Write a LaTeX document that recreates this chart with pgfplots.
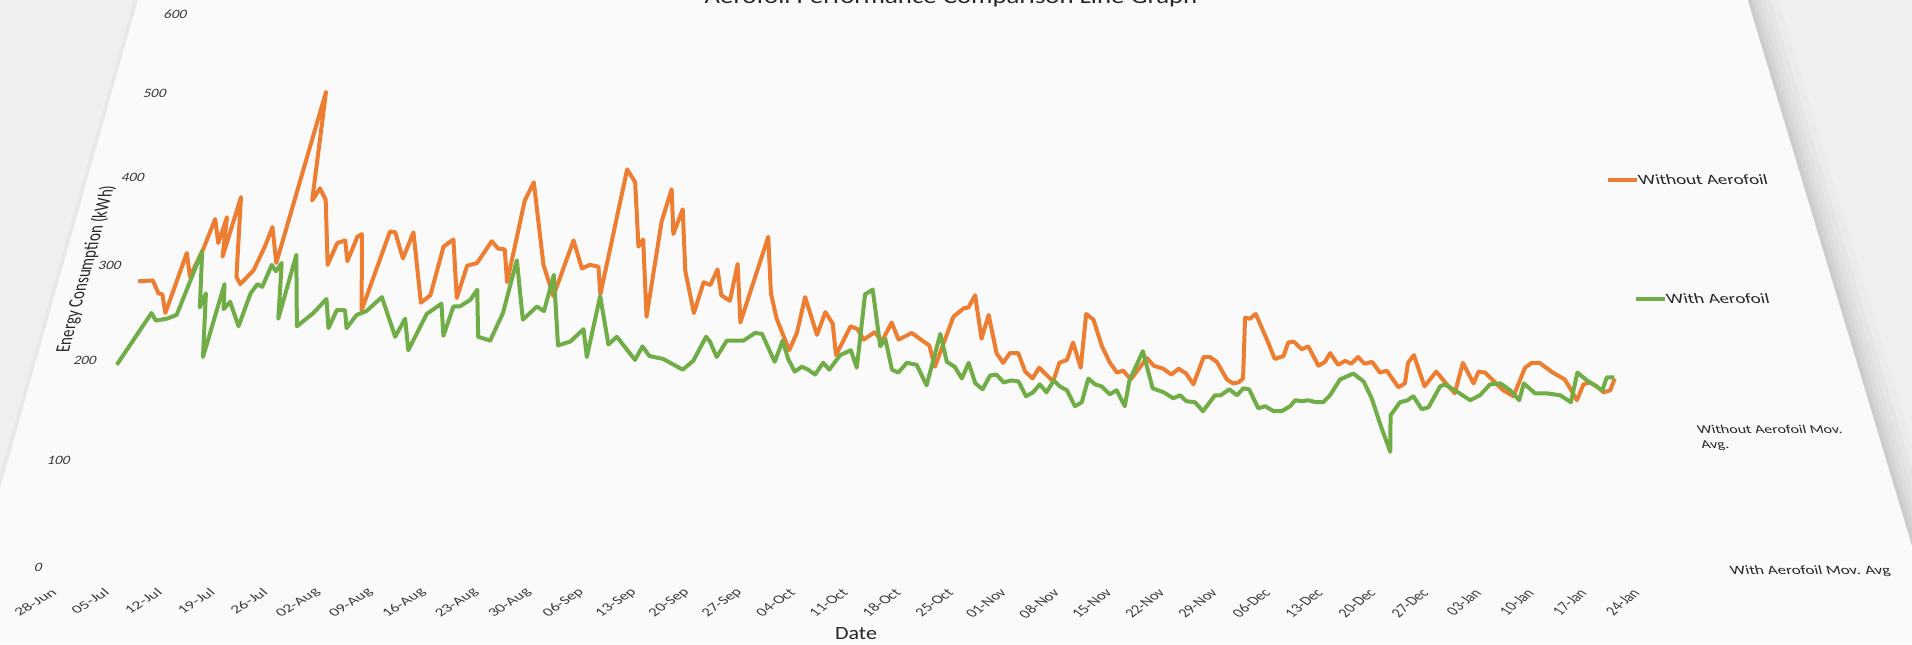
\documentclass[border=0pt]{standalone}
\usepackage{fontspec}
\setmainfont{Carlito}
\usepackage{pgfplots}
\pgfplotsset{compat=1.18}
\usepackage{pgfplotstable}

\definecolor{withoutcol}{RGB}{237,125,49}
\definecolor{withcol}{RGB}{112,173,71}
\definecolor{pagebg}{RGB}{239,239,239}
\definecolor{panelcol}{RGB}{250,250,250}
\definecolor{tickcol}{RGB}{60,60,60}
\definecolor{textcol}{RGB}{38,38,38}

% day index (0 = 28-Jun) and daily energy use in kWh
\pgfplotstableread{
d v
0.0 283
2.1 284
3.4 270
4.0 269
5.1 249
6.1 314
7.4 288
8.4 319
9.1 352
10.4 325
10.8 354
11.5 310
12.2 377
14.2 288
15.0 280
16.5 295
17.4 321
17.9 343
19.6 303
21.7 502
23.0 373
23.8 387
25.0 374
27.2 301
28.0 325
29.1 328
30.0 305
30.8 332
31.4 335
33.4 252
35.5 338
36.3 337
38.1 308
39.0 337
41.8 260
43.0 268
43.8 321
45.1 329
46.9 265
47.7 300
49.1 303
50.8 327
51.9 319
52.9 318
53.9 282
54.9 373
55.9 394
58.9 301
60.9 267
62.9 328
64.6 297
65.7 301
67.0 299
67.7 269
69.8 409
71.2 394
72.6 321
73.2 329
74.7 245
75.7 349
76.8 386
77.6 335
78.7 363
79.8 294
81.5 249
82.6 282
83.6 279
84.5 296
85.3 268
86.6 262
87.4 302
88.3 239
91.7 332
92.5 270
93.5 243
95.5 210
96.5 228
97.5 266
99.4 226
100.5 250
101.6 238
102.2 205
104.2 235
105.2 232
106.1 221
107.7 229
108.7 219
110.1 239
111.1 221
113.0 228
114.7 219
115.5 215
116.3 193
119.0 245
120.5 254
121.2 255
122.2 268
123.0 222
124.1 247
125.1 207
126.0 197
127.0 207
128.2 207
129.1 188
130.1 181
131.1 192
133.0 178
134.0 197
135.1 200
136.1 218
137.0 192
138.2 248
139.2 242
140.2 214
141.2 197
142.1 187
143.0 189
144.0 180
146.5 202
147.4 194
148.7 191
149.8 185
150.9 191
151.9 186
152.8 175
154.6 203
155.5 203
156.4 198
157.6 180
158.4 176
159.2 177
159.9 181
161.1 244
161.8 243
162.7 248
163.9 221
164.7 201
166.0 204
166.9 218
167.7 219
168.7 211
169.7 214
170.8 194
171.8 198
172.7 207
173.6 195
174.7 199
175.5 196
176.6 203
177.4 196
178.5 198
179.4 187
180.4 189
181.7 172
182.7 176
183.6 197
184.6 205
185.4 173
187.4 188
188.6 175
189.5 166
191.4 197
192.4 176
193.4 188
194.3 187
196.4 169
197.7 163
200.1 192
201.2 197
202.3 197
203.9 187
205.4 180
205.9 171
206.5 159
207.9 175
208.9 177
209.7 173
210.5 167
211.5 169
212.5 181
}\withoutdata

\pgfplotstableread{
d v
0.0 195
3.1 249
4.0 241
5.5 243
6.8 247
8.3 316
9.9 255
10.3 270
12.0 203
12.7 280
13.4 253
14.1 261
16.1 235
16.8 270
17.5 280
18.3 277
19.0 301
19.8 294
20.4 303
21.6 243
22.3 312
24.5 235
26.5 249
28.0 264
29.1 233
29.8 252
31.0 252
31.7 233
32.8 247
34.1 251
36.0 266
38.9 224
39.9 243
41.1 210
42.9 248
44.8 259
45.8 225
46.6 256
47.5 256
48.9 263
49.7 274
50.8 224
52.6 220
53.9 249
54.9 306
56.9 242
58.7 256
59.8 251
60.6 290
62.4 215
64.1 219
65.8 232
66.7 203
67.7 267
69.6 216
70.7 224
73.6 200
74.5 214
75.6 204
77.6 201
80.5 190
81.9 199
83.5 224
84.1 219
85.2 203
86.5 220
88.9 220
90.5 228
91.5 227
93.5 198
94.5 220
95.4 201
96.4 188
97.4 193
98.3 190
99.3 185
100.4 197
101.3 190
102.8 205
104.3 210
105.2 192
106.2 269
107.3 274
108.5 214
109.2 222
110.2 190
111.1 187
112.3 197
113.7 195
115.1 174
117.1 227
118.0 198
119.1 193
120.1 181
121.1 197
122.0 176
123.0 170
124.1 184
125.0 185
126.0 177
127.1 179
128.1 178
129.1 163
130.1 167
131.1 175
132.0 167
133.1 179
133.9 173
134.9 169
135.9 153
136.9 157
138.0 181
138.9 175
139.8 173
140.9 165
141.9 169
142.9 153
143.8 179
146.0 209
147.0 171
148.5 167
149.8 161
150.8 164
151.6 158
152.8 157
153.8 148
155.7 164
156.5 164
157.8 170
158.8 164
159.8 171
160.6 170
161.6 151
162.6 153
163.7 148
164.8 148
166.1 153
166.9 159
167.8 158
168.7 159
169.8 157
170.8 157
171.9 164
173.6 180
175.6 186
176.9 178
177.7 161
178.4 134
179.2 108
180.0 144
181.6 157
182.7 159
183.6 163
184.5 150
185.5 152
187.6 173
188.3 175
189.8 168
191.5 159
193.0 164
194.7 175
196.2 176
197.4 169
198.4 159
199.5 176
200.8 166
202.4 166
204.3 164
205.6 157
207.4 187
208.5 179
210.4 169
211.4 182
212.5 182
}\withdata

\tikzset{
  ytick lab/.style={font=\fontsize{7.5}{9}\selectfont, text=tickcol, anchor=east, inner sep=1pt},
  xtick lab/.style={font=\fontsize{8.5}{10}\selectfont, text=tickcol, anchor=east, inner sep=0.5pt},
  legend lab/.style={font=\fontsize{9.5}{11}\selectfont, text=textcol, anchor=west, inner sep=0pt},
  small legend lab/.style={font=\fontsize{8}{9.5}\selectfont, text=textcol, anchor=west, inner sep=0pt},
}

\begin{document}
\begin{tikzpicture}[
  % the chart sheet is seen tilted: days and kWh are projected onto the page
  declare function={
    wf(\VV)=1+0.000332*\VV;
    projx(\DD,\VV)=917+(65+7.49*\DD-917)/wf(\VV);
    projy(\VV)=(567-0.916*\VV)/wf(\VV);
  }]
\path[use as bounding box] (0pt,0pt) rectangle (956pt,322pt);
\clip (0pt,0pt) rectangle (956pt,322pt);
\begin{axis}[
  at={(0pt,0pt)}, anchor=south west,
  scale only axis, width=956pt, height=322pt,
  xmin=0, xmax=1912, ymin=0, ymax=644, y dir=reverse,
  hide axis, clip=false,
]
% page background, tilted sheet and the soft shadow along its right edge
\fill[pagebg] (axis cs:0,0) rectangle (axis cs:1912,644);
\fill[black!8]  (axis cs:1747.6,0) -- (axis cs:1778.6,0) -- (axis cs:1972.4,644) -- (axis cs:1941.4,644) -- cycle;
\fill[black!10] (axis cs:1747.6,0) -- (axis cs:1770.6,0) -- (axis cs:1964.4,644) -- (axis cs:1941.4,644) -- cycle;
\fill[black!12] (axis cs:1747.6,0) -- (axis cs:1764.6,0) -- (axis cs:1958.4,644) -- (axis cs:1941.4,644) -- cycle;
\fill[black!14] (axis cs:1747.6,0) -- (axis cs:1759.6,0) -- (axis cs:1953.4,644) -- (axis cs:1941.4,644) -- cycle;
\fill[black!17] (axis cs:1747.6,0) -- (axis cs:1755.6,0) -- (axis cs:1949.4,644) -- (axis cs:1941.4,644) -- cycle;
\fill[black!20] (axis cs:1747.6,0) -- (axis cs:1751.6,0) -- (axis cs:1945.4,644) -- (axis cs:1941.4,644) -- cycle;
\fill[black!9] (axis cs:134,0) -- (axis cs:138,0) -- (axis cs:-43.6,644) -- (axis cs:-47.6,644) -- cycle;
\fill[panelcol] (axis cs:138,0) -- (axis cs:1747.6,0) -- (axis cs:1941.4,644) -- (axis cs:-43.6,644) -- cycle;

% title, partly off the top of the sheet
\node[yscale=0.8, anchor=base, inner sep=0pt, font=\fontsize{13.4}{16}\selectfont, text=textcol]
  at (axis cs:951,3) {Aerofoil Performance Comparison Line Graph};

% series
\addplot[withoutcol, line width=2pt, line join=round, no markers]
  table[x expr={projx(\thisrow{d},\thisrow{v})}, y expr={projy(\thisrow{v})}] {\withoutdata};
\addplot[withcol, line width=2pt, line join=round, no markers]
  table[x expr={projx(\thisrow{d},\thisrow{v})}, y expr={projy(\thisrow{v})}] {\withdata};

% value axis labels
\node[xslant=0.266, yscale=0.85, ytick lab] at (axis cs:45,567) {0};
\node[xslant=0.266, yscale=0.85, ytick lab] at (axis cs:73,460) {100};
\node[xslant=0.266, yscale=0.85, ytick lab] at (axis cs:99.3,360) {200};
\node[xslant=0.266, yscale=0.85, ytick lab] at (axis cs:124,265.7) {300};
\node[xslant=0.266, yscale=0.85, ytick lab] at (axis cs:147.2,177.1) {400};
\node[xslant=0.266, yscale=0.85, ytick lab] at (axis cs:169.1,93.5) {500};
\node[xslant=0.266, yscale=0.85, ytick lab] at (axis cs:189.8,14.5) {600};
\node[xslant=0.274, yscale=0.75, rotate=90, font=\fontsize{10}{12}\selectfont, text=textcol]
  at (axis cs:86,269) {Energy Consumption (kWh)};

% date axis labels
\node[xslant=0.256, yscale=0.72, rotate=45, xtick lab] at (axis cs:55.5,590) {28-Jun};
\node[xslant=0.240, yscale=0.72, rotate=45, xtick lab] at (axis cs:108.1,590) {05-Jul};
\node[xslant=0.224, yscale=0.72, rotate=45, xtick lab] at (axis cs:160.9,590) {12-Jul};
\node[xslant=0.209, yscale=0.72, rotate=45, xtick lab] at (axis cs:213.6,590) {19-Jul};
\node[xslant=0.193, yscale=0.72, rotate=45, xtick lab] at (axis cs:266.3,590) {26-Jul};
\node[xslant=0.177, yscale=0.72, rotate=45, xtick lab] at (axis cs:319.0,590) {02-Aug};
\node[xslant=0.161, yscale=0.72, rotate=45, xtick lab] at (axis cs:371.7,590) {09-Aug};
\node[xslant=0.146, yscale=0.72, rotate=45, xtick lab] at (axis cs:424.4,590) {16-Aug};
\node[xslant=0.130, yscale=0.72, rotate=45, xtick lab] at (axis cs:477.1,590) {23-Aug};
\node[xslant=0.114, yscale=0.72, rotate=45, xtick lab] at (axis cs:529.9,590) {30-Aug};
\node[xslant=0.098, yscale=0.72, rotate=45, xtick lab] at (axis cs:582.6,590) {06-Sep};
\node[xslant=0.083, yscale=0.72, rotate=45, xtick lab] at (axis cs:635.2,590) {13-Sep};
\node[xslant=0.067, yscale=0.72, rotate=45, xtick lab] at (axis cs:688.0,590) {20-Sep};
\node[xslant=0.051, yscale=0.72, rotate=45, xtick lab] at (axis cs:740.7,590) {27-Sep};
\node[xslant=0.035, yscale=0.72, rotate=45, xtick lab] at (axis cs:793.4,590) {04-Oct};
\node[xslant=0.020, yscale=0.72, rotate=45, xtick lab] at (axis cs:846.2,590) {11-Oct};
\node[xslant=0.004, yscale=0.72, rotate=45, xtick lab] at (axis cs:898.8,590) {18-Oct};
\node[xslant=-0.012, yscale=0.72, rotate=45, xtick lab] at (axis cs:951.5,590) {25-Oct};
\node[xslant=-0.028, yscale=0.72, rotate=45, xtick lab] at (axis cs:1004.2,590) {01-Nov};
\node[xslant=-0.043, yscale=0.72, rotate=45, xtick lab] at (axis cs:1057.0,590) {08-Nov};
\node[xslant=-0.059, yscale=0.72, rotate=45, xtick lab] at (axis cs:1109.6,590) {15-Nov};
\node[xslant=-0.075, yscale=0.72, rotate=45, xtick lab] at (axis cs:1162.3,590) {22-Nov};
\node[xslant=-0.091, yscale=0.72, rotate=45, xtick lab] at (axis cs:1215.1,590) {29-Nov};
\node[xslant=-0.106, yscale=0.72, rotate=45, xtick lab] at (axis cs:1267.8,590) {06-Dec};
\node[xslant=-0.122, yscale=0.72, rotate=45, xtick lab] at (axis cs:1320.5,590) {13-Dec};
\node[xslant=-0.138, yscale=0.72, rotate=45, xtick lab] at (axis cs:1373.2,590) {20-Dec};
\node[xslant=-0.153, yscale=0.72, rotate=45, xtick lab] at (axis cs:1425.9,590) {27-Dec};
\node[xslant=-0.169, yscale=0.72, rotate=45, xtick lab] at (axis cs:1478.6,590) {03-Jan};
\node[xslant=-0.185, yscale=0.72, rotate=45, xtick lab] at (axis cs:1531.3,590) {10-Jan};
\node[xslant=-0.201, yscale=0.72, rotate=45, xtick lab] at (axis cs:1584.1,590) {17-Jan};
\node[xslant=-0.216, yscale=0.72, rotate=45, xtick lab] at (axis cs:1636.7,590) {24-Jan};
\node[yscale=0.85, font=\fontsize{11}{13}\selectfont, text=textcol] at (axis cs:856,634) {Date};

% legend
\draw[withoutcol, line width=2pt] (axis cs:1608,180) -- (axis cs:1637,180);
\node[xslant=-0.245, yscale=0.75, legend lab] at (axis cs:1638,180) {Without Aerofoil};
\draw[withcol, line width=2pt] (axis cs:1636,299) -- (axis cs:1665,299);
\node[xslant=-0.245, yscale=0.75, legend lab] at (axis cs:1666,299) {With Aerofoil};
\node[xslant=-0.245, yscale=0.75, small legend lab] at (axis cs:1697,429) {Without Aerofoil Mov.};
\node[xslant=-0.245, yscale=0.75, small legend lab] at (axis cs:1701,446) {Avg.};
\node[xslant=-0.245, yscale=0.75, small legend lab, font=\fontsize{8.5}{10}\selectfont] at (axis cs:1730,571) {With Aerofoil Mov. Avg};
\end{axis}
\end{tikzpicture}
\end{document}
